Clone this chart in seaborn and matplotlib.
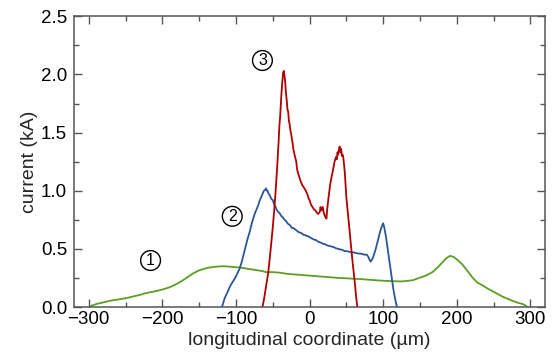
import matplotlib
matplotlib.use("Agg")
import matplotlib.pyplot as plt
import seaborn as sns
import pandas as pd
from matplotlib.ticker import MultipleLocator

# ---- data ----
x1 = [-297, -290, -280, -270, -260, -250, -240, -230, -222, -210, -200, -190, -180, -172,
      -165, -158, -150, -140, -130, -120, -114, -105, -95, -85, -75, -65, -59, -50, -40,
      -30, -20, -10, 0, 10, 20, 30, 40, 50, 60, 70, 80, 90, 100, 110, 126, 140, 149, 158,
      167, 174, 180, 186, 191, 196, 202, 207, 211, 217, 222, 228, 234, 243, 252, 262, 275,
      284, 290, 294, 296]
y1 = [0.01, 0.025, 0.04, 0.055, 0.065, 0.075, 0.09, 0.105, 0.12, 0.135, 0.15, 0.17, 0.20, 0.23,
      0.26, 0.29, 0.315, 0.335, 0.345, 0.35, 0.35, 0.345, 0.34, 0.33, 0.32, 0.31, 0.30, 0.30, 0.295,
      0.285, 0.28, 0.275, 0.27, 0.265, 0.26, 0.255, 0.25, 0.247, 0.243, 0.24, 0.235, 0.23, 0.226,
      0.223, 0.22, 0.23, 0.25, 0.27, 0.30, 0.34, 0.38, 0.42, 0.44, 0.43, 0.40, 0.37, 0.34, 0.29,
      0.25, 0.21, 0.19, 0.155, 0.125, 0.09, 0.055, 0.035, 0.025, 0.01, 0.0]

x2 = [-119, -117, -115, -112, -110, -107, -104, -101, -98, -95, -92, -90, -88, -86, -84, -82,
      -80, -78, -76, -74, -72, -70, -68, -66, -64, -62, -60, -59, -58, -57, -56, -55, -54, -52,
      -50, -48, -46, -45, -43, -41, -40, -38, -36, -34, -32, -30, -28, -26, -24, -22, -20, -18,
      -16, -14, -12, -10, -8, -6, -4, -2, 0, 3, 6, 9, 12, 15, 18, 21, 24, 27, 30, 33, 36, 39,
      42, 45, 48, 51, 54, 57, 60, 63, 66, 69, 72, 75, 78, 80, 82, 83, 84, 86, 88, 90, 92, 94,
      96, 98, 100, 101, 102, 104, 106, 108, 110, 112, 114, 116, 118, 119]
y2 = [0.0, 0.04, 0.08, 0.12, 0.15, 0.19, 0.22, 0.25, 0.29, 0.33, 0.39, 0.44, 0.49, 0.54, 0.59,
      0.63, 0.68, 0.73, 0.77, 0.81, 0.84, 0.87, 0.91, 0.94, 0.97, 1.00, 1.01, 1.02, 1.00, 1.00,
      0.98, 0.97, 0.96, 0.93, 0.92, 0.88, 0.86, 0.84, 0.82, 0.81, 0.80, 0.78, 0.77, 0.75, 0.74,
      0.72, 0.71, 0.70, 0.68, 0.68, 0.67, 0.66, 0.65, 0.64, 0.64, 0.63, 0.62, 0.62, 0.61, 0.61,
      0.60, 0.59, 0.58, 0.575, 0.56, 0.555, 0.545, 0.54, 0.53, 0.525, 0.52, 0.515, 0.505, 0.50,
      0.495, 0.49, 0.48, 0.48, 0.475, 0.47, 0.47, 0.465, 0.46, 0.46, 0.455, 0.45, 0.45, 0.43,
      0.40, 0.39, 0.40, 0.42, 0.46, 0.50, 0.55, 0.60, 0.65, 0.69, 0.72, 0.70, 0.67, 0.60, 0.51,
      0.42, 0.33, 0.24, 0.15, 0.08, 0.02, 0.0]

x3 = [-64, -62, -60, -58, -56, -54, -52, -50, -48, -46, -44, -42, -41, -40, -39, -38, -37, -36,
      -35, -34, -33, -32, -31, -30, -29, -28, -27, -26, -25, -24, -23, -22, -21, -20, -18, -17,
      -16, -14, -13, -12, -10, -8, -6, -5, -3, -1, 0, 2, 4, 6, 8, 10, 12, 14, 15, 16, 18, 19,
      21, 22, 23, 24, 26, 28, 30, 32, 34, 36, 37, 38, 39, 40, 41, 42, 43, 44, 45, 46, 47, 48,
      49, 50, 51, 53, 55, 56, 58, 59, 61, 62, 63, 64, 65]
y3 = [0.0, 0.06, 0.14, 0.22, 0.30, 0.42, 0.55, 0.68, 0.83, 1.00, 1.20, 1.42, 1.55, 1.63, 1.74,
      1.85, 1.93, 2.01, 2.03, 1.99, 1.93, 1.84, 1.78, 1.70, 1.68, 1.60, 1.57, 1.52, 1.49, 1.45,
      1.41, 1.36, 1.33, 1.30, 1.25, 1.19, 1.16, 1.12, 1.10, 1.08, 1.05, 1.03, 1.01, 1.00, 0.97,
      0.93, 0.92, 0.88, 0.86, 0.84, 0.83, 0.81, 0.80, 0.82, 0.86, 0.83, 0.86, 0.82, 0.78, 0.77,
      0.76, 0.84, 0.95, 1.05, 1.12, 1.18, 1.25, 1.29, 1.27, 1.33, 1.31, 1.36, 1.38, 1.33, 1.36,
      1.30, 1.31, 1.28, 1.22, 1.15, 1.05, 0.95, 0.88, 0.75, 0.62, 0.55, 0.42, 0.36, 0.24, 0.18,
      0.11, 0.05, 0.0]

labels = ["1", "2", "3"]
label_x = [-216, -105, -64]
label_y = [0.40, 0.78, 2.12]
colors = ["#5c9e22", "#2b5797", "#b00000"]

xticks = [-300, -200, -100, 0, 100, 200, 300]
yticks = [0.0, 0.5, 1.0, 1.5, 2.0, 2.5]

# ---- plot ----
sns.set_theme(style="ticks")
plt.rcParams["font.family"] = ["Liberation Sans", "DejaVu Sans"]

fig = plt.figure(figsize=(5.59, 3.59), dpi=100)
ax = fig.add_axes([0.1324, 0.1448, 0.975 - 0.1324, 0.9546 - 0.1448])

for xs, ys, c in zip([x1, x2, x3], [y1, y2, y3], colors):
    df = pd.DataFrame({"x": xs, "y": ys})
    sns.lineplot(data=df, x="x", y="y", color=c, linewidth=1.3, ax=ax,
                 estimator=None, sort=False)

for t, lx, ly in zip(labels, label_x, label_y):
    ax.text(lx, ly, t, ha="center", va="center", fontsize=11.5, color="black",
            bbox=dict(boxstyle="circle,pad=0.15", fc="white", ec="black", lw=1.0))

ax.set_xlim(-320, 320)
ax.set_ylim(0, 2.5)
ax.set_xticks(xticks)
ax.set_xticklabels([("\u2212" + str(abs(v))) if v < 0 else str(v) for v in xticks])
ax.set_yticks(yticks)
ax.set_yticklabels([f"{v:.1f}" for v in yticks])
ax.xaxis.set_minor_locator(MultipleLocator(50))
ax.yaxis.set_minor_locator(MultipleLocator(0.25))
ax.tick_params(which="both", direction="in", top=True, right=True,
               color="#555555", width=1.0, labelsize=13.5, labelcolor="black")
ax.tick_params(axis="x", which="both", pad=3)
ax.tick_params(axis="y", which="both", pad=5)
ax.tick_params(which="major", length=6)
ax.tick_params(which="minor", length=3.5)
for s in ax.spines.values():
    s.set_color("#555555")
    s.set_linewidth(1.1)

ax.set_xlabel("longitudinal coordinate (\u00b5m)", fontsize=14, labelpad=3)
ax.set_ylabel("current (kA)", fontsize=14, labelpad=2)

fig.savefig("out.png", dpi=100)
